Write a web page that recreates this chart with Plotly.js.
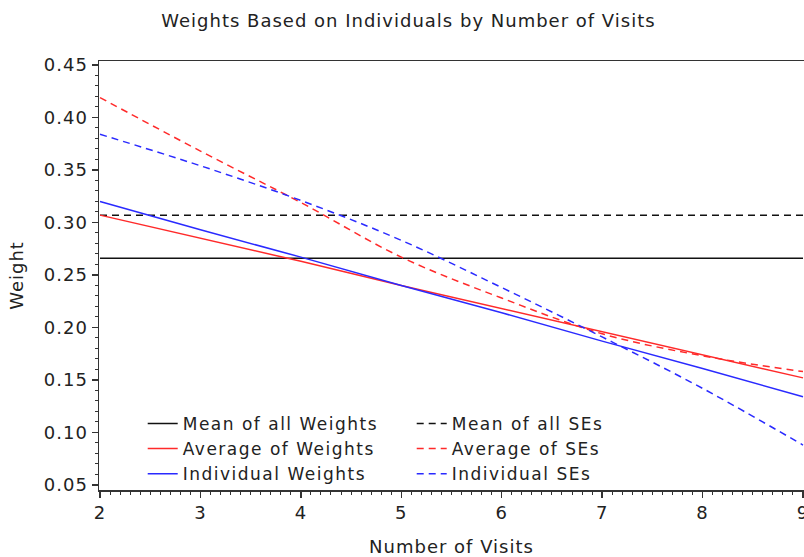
<!DOCTYPE html>
<html>
<head>
<meta charset="utf-8">
<script src="https://cdn.plot.ly/plotly-3.0.1.min.js"></script>
<style>
html,body{margin:0;padding:0;background:#fff;}
#chart{width:804px;height:557px;}
#chart svg text{letter-spacing:1px;}
#chart svg .legendtext{letter-spacing:1.5px;}
</style>
</head>
<body>
<div id="chart"></div>
<script>
var visits = [2, 3, 4, 5, 6, 7, 8, 9];
var meanWeights = [0.266, 0.266, 0.266, 0.266, 0.266, 0.266, 0.266, 0.266];
var meanSEs = [0.307, 0.307, 0.307, 0.307, 0.307, 0.307, 0.307, 0.307];
var avgWeights = [0.307, 0.285, 0.263, 0.240, 0.218, 0.196, 0.174, 0.152];
var avgSEs = [0.419, 0.368, 0.319, 0.267, 0.228, 0.194, 0.173, 0.158];
var indWeights = [0.320, 0.293, 0.267, 0.240, 0.214, 0.187, 0.161, 0.134];
var indSEs = [0.384, 0.354, 0.321, 0.283, 0.238, 0.191, 0.142, 0.088];
var seriesNames = ['Mean of all Weights', 'Mean of all SEs', 'Average of Weights', 'Average of SEs', 'Individual Weights', 'Individual SEs'];

var RED = '#ff2a2a', BLUE = '#2a2aff', BLACK = '#111111';
var DASH = '7px,5px';
function tr(y, name, color, dash, shape) {
  return {x: visits, y: y, name: name, type: 'scatter', mode: 'lines',
    line: {color: color, width: 1.5, dash: dash, shape: shape || 'linear', smoothing: 1},
    hoverinfo: 'skip'};
}
var data = [
  tr(meanWeights, seriesNames[0], BLACK, 'solid'),
  tr(meanSEs, seriesNames[1], BLACK, DASH),
  tr(avgWeights, seriesNames[2], RED, 'solid'),
  tr(avgSEs, seriesNames[3], RED, DASH, 'spline'),
  tr(indWeights, seriesNames[4], BLUE, 'solid'),
  tr(indSEs, seriesNames[5], BLUE, DASH, 'spline')
];
var FONT = 'DejaVu Sans';
var layout = {
  width: 804, height: 557,
  margin: {l: 99, r: 0, t: 61, b: 67},
  paper_bgcolor: '#fff', plot_bgcolor: '#fff',
  font: {family: FONT, size: 18, color: '#222'},
  title: {text: 'Weights Based on Individuals by Number of Visits', font: {family: FONT, size: 18, color: '#222'},
    x: 0.508, xanchor: 'center', y: 0.962, yanchor: 'middle'},
  xaxis: {range: [1.99, 9.01], tickvals: visits, ticktext: visits.map(String), ticklabeloverflow: 'allow',
    showgrid: false, zeroline: false, showline: true, linecolor: '#333', linewidth: 1.5, mirror: true,
    ticks: 'outside', ticklen: 6, tickwidth: 1.5, tickcolor: '#333',
    minor: {dtick: 0.1, tick0: 2, ticks: 'outside', ticklen: 3, tickwidth: 1, tickcolor: '#333', showgrid: false},
    tickfont: {family: FONT, size: 18, color: '#222'},
    title: {text: 'Number of Visits', font: {family: FONT, size: 18, color: '#222'}, standoff: 18}},
  yaxis: {range: [0.0452, 0.4538], tickvals: [0.05, 0.10, 0.15, 0.20, 0.25, 0.30, 0.35, 0.40, 0.45], tickformat: '.2f',
    showgrid: false, zeroline: false, showline: true, linecolor: '#333', linewidth: 1.5, mirror: false,
    ticks: 'outside', ticklen: 6, tickwidth: 1.5, tickcolor: '#333',
    minor: {dtick: 0.01, tick0: 0.05, ticks: 'outside', ticklen: 3, tickwidth: 1, tickcolor: '#333', showgrid: false},
    tickfont: {family: FONT, size: 18, color: '#222'},
    title: {text: 'Weight', font: {family: FONT, size: 18, color: '#222'}, standoff: 19}},
  showlegend: true,
  legend: {orientation: 'h', x: 0.062, xanchor: 'left', y: 0.196, yanchor: 'top',
    bgcolor: 'rgba(0,0,0,0)', borderwidth: 0, entrywidth: 224, entrywidthmode: 'pixels',
    font: {family: FONT, size: 17, color: '#222'}, traceorder: 'normal', itemclick: false}
};
Plotly.newPlot('chart', data, layout, {staticPlot: true, displayModeBar: false});
</script>
</body>
</html>
